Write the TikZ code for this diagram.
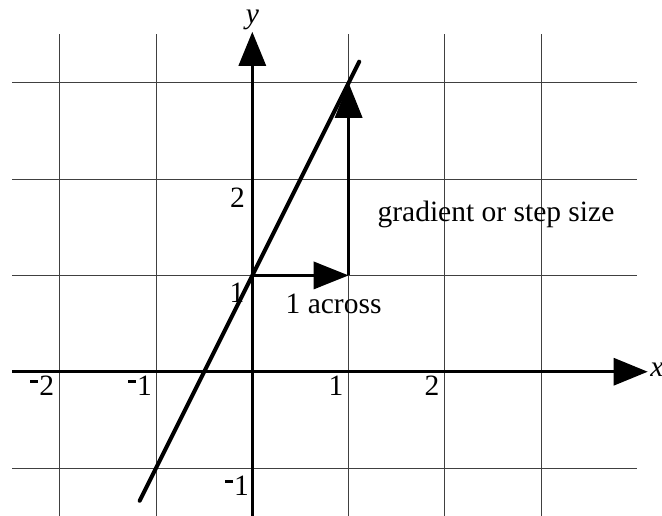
\documentclass[tikz,border=0pt]{standalone}
\usepackage{fontspec}
\setmainfont{Liberation Serif}
\usetikzlibrary{arrows.meta}
\newcommand{\negsign}{\rule[13.2bp]{8bp}{2.2bp}\kern1bp}
\begin{document}
\begin{tikzpicture}[x=96.3bp,y=96.3bp,
  gridline/.style={draw=black!75,line width=0.9bp},
  axisline/.style={draw=black,line width=3bp,-{Triangle[length=34bp,width=27bp]}},
  stepline/.style={draw=black,line width=3.5bp,-{Triangle[length=35bp,width=27bp]}},
  graphline/.style={draw=black,line width=4bp,line cap=round},
  lbl/.style={inner sep=0pt,font=\fontsize{29.5bp}{31bp}\selectfont}]
\useasboundingbox (-2.62,-1.488) rectangle (4.254,3.86);
% grid
\foreach \gx in {-2,-1,1,2,3} \draw[gridline] (\gx,-1.5) -- (\gx,3.504);
\foreach \gy in {-1,1,2,3} \draw[gridline] (-2.495,\gy) -- (3.994,\gy);
% axes
\coordinate (xs) at (-2.495,0);
\coordinate (xe) at (4.106,0);
\coordinate (ys) at (0,-1.5);
\coordinate (ye) at (0,3.53);
\draw[axisline] (xs) -- (xe);
\draw[axisline] (ys) -- (ye);
\node[lbl,font=\fontsize{29.5bp}{31bp}\selectfont\itshape] (xl) at (4.2,0.02) {x};
\node[lbl,font=\fontsize{29.5bp}{31bp}\selectfont\itshape] (yl) at (0,3.655) {y};
% graph line y = 2x + 1
\coordinate (la) at (-1.17,-1.34);
\coordinate (lb) at (1.11,3.22);
\draw[graphline] (la) -- (lb);
% steps
\coordinate (p0) at (0,1);
\coordinate (p1) at (1,1);
\coordinate (p2) at (1,3);
\draw[stepline] (p0) -- (p1);
\draw[stepline] (p1) -- (p2);
% labels
\node[lbl] (t2) at (-0.155,1.81) {2};
\node[lbl] (t1) at (-0.16,0.817) {1};
\node[lbl] (tm1y) at (-0.16,-1.187) {\negsign 1};
\node[lbl] (tm2) at (-2.18,-0.148) {\negsign 2};
\node[lbl] (tm1) at (-1.165,-0.148) {\negsign 1};
\node[lbl] (tx1) at (0.87,-0.148) {1};
\node[lbl] (tx2) at (1.867,-0.148) {2};
\node[lbl] (across) at (0.844,0.70) {1 across};
\node[lbl] (grad) at (2.53,1.63) {gradient or step size};
\end{tikzpicture}
\end{document}
